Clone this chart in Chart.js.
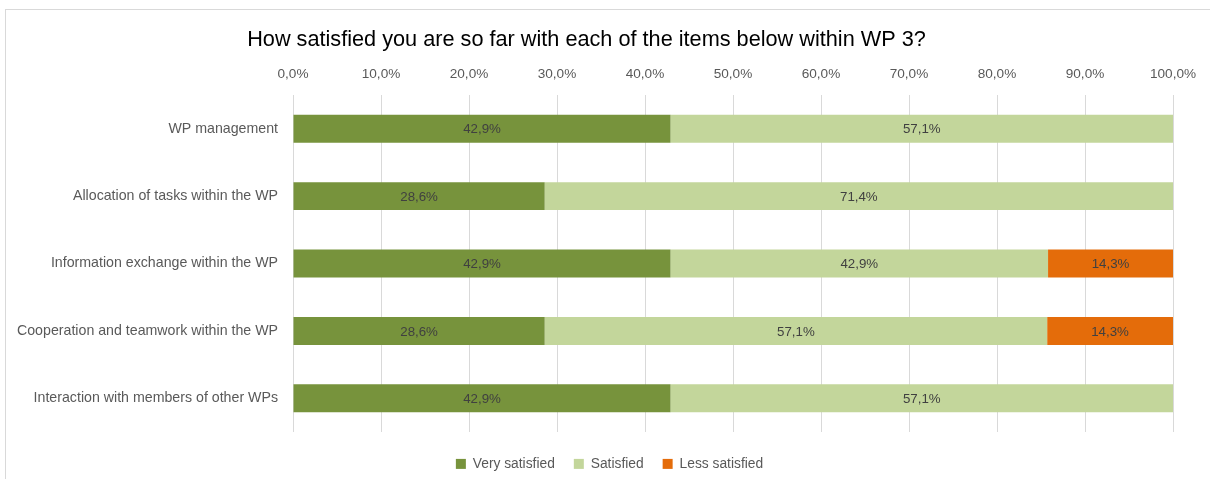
<!DOCTYPE html>
<html>
<head>
<meta charset="utf-8">
<title>WP 3 satisfaction</title>
<script src="https://cdn.jsdelivr.net/npm/chart.js@4/dist/chart.umd.min.js"></script>
<style>
  html, body { margin: 0; padding: 0; background: #ffffff; overflow: hidden; }
  #frame {
    position: absolute; left: 5px; top: 9px; width: 1400px; height: 700px;
    border-left: 1px solid #d9d9d9; border-top: 1px solid #d9d9d9;
  }
  #chart { position: absolute; left: 0; top: 0; }
</style>
</head>
<body>
<div id="frame"></div>
<canvas id="chart" width="1210" height="479"></canvas>
<script>
const categories = [
  'WP management',
  'Allocation of tasks within the WP',
  'Information exchange within the WP',
  'Cooperation and teamwork within the WP',
  'Interaction with members of other WPs'
];
const verySatisfied = [42.9, 28.6, 42.9, 28.6, 42.9];
const satisfied     = [57.1, 71.4, 42.9, 57.1, 57.1];
const lessSatisfied = [null, null, 14.3, 14.3, null];
const xTicks = [0, 10, 20, 30, 40, 50, 60, 70, 80, 90, 100];

const FONT = "'Liberation Sans', 'DejaVu Sans', sans-serif";
const LEGEND_HEIGHT = 47;
const LEGEND_SHIFT_Y = 6;
const LEGEND_SHIFT_X = 23;
const fmt = v => v.toFixed(1).replace('.', ',') + '%';

// Writes each segment's value in the middle of its bar
const barValueLabels = {
  id: 'barValueLabels',
  afterDatasetsDraw(chart) {
    const ctx = chart.ctx;
    ctx.save();
    ctx.font = '13.3px ' + FONT;
    ctx.fillStyle = '#404040';
    ctx.textAlign = 'center';
    ctx.textBaseline = 'middle';
    chart.data.datasets.forEach((ds, di) => {
      const meta = chart.getDatasetMeta(di);
      meta.data.forEach((bar, i) => {
        const v = ds.data[i];
        if (v === null || v === undefined) return;
        const left = Math.min(bar.x, bar.base);
        const right = Math.min(Math.max(bar.x, bar.base), chart.chartArea.right);
        ctx.fillText(fmt(v), (left + right) / 2, bar.y + 1);
      });
    });
    ctx.restore();
  }
};

// Keeps the bottom legend band at a fixed height and nudges its row into place
const fixedLegendBand = {
  id: 'fixedLegendBand',
  afterInit(chart) {
    const legend = chart.legend;
    if (!legend) return;
    const fit = legend.fit.bind(legend);
    legend.fit = function () {
      fit();
      this.height = LEGEND_HEIGHT;
    };
    const draw = legend.draw.bind(legend);
    legend.draw = function () {
      const ctx = this.ctx;
      ctx.save();
      ctx.translate(LEGEND_SHIFT_X, LEGEND_SHIFT_Y);
      draw();
      ctx.restore();
    };
  }
};

new Chart(document.getElementById('chart'), {
  type: 'bar',
  data: {
    labels: categories,
    datasets: [
      { label: 'Very satisfied', data: verySatisfied, backgroundColor: '#77933c' },
      { label: 'Satisfied', data: satisfied, backgroundColor: '#c3d69b' },
      { label: 'Less satisfied', data: lessSatisfied, backgroundColor: '#e46c0a' }
    ]
  },
  options: {
    indexAxis: 'y',
    responsive: false,
    animation: false,
    layout: { padding: { left: 0, right: 37, top: 0, bottom: 0 } },
    datasets: { bar: { categoryPercentage: 1, barPercentage: 0.415 } },
    scales: {
      x: {
        position: 'top',
        stacked: true,
        min: 0, max: 100,
        afterBuildTicks(axis) { axis.ticks = xTicks.map(v => ({ value: v })); },
        afterFit(axis) { axis.height = 42; },
        ticks: {
          color: '#595959',
          font: { family: FONT, size: 13.6 },
          padding: 13,
          callback: v => fmt(v)
        },
        grid: { color: '#d9d9d9', drawTicks: false, lineWidth: 1 },
        border: { display: false }
      },
      y: {
        stacked: true,
        afterFit(axis) { axis.width = 293; },
        ticks: {
          color: '#595959',
          font: { family: FONT, size: 14.2 },
          padding: 15
        },
        grid: { display: false, drawTicks: false },
        border: { display: false }
      }
    },
    plugins: {
      title: {
        display: true,
        text: 'How satisfied you are so far with each of the items below within WP 3?',
        color: '#000000',
        font: { family: FONT, size: 21.7, weight: 'normal' },
        padding: { top: 27, bottom: 0 }
      },
      legend: {
        position: 'bottom',
        labels: {
          color: '#595959',
          font: { family: FONT, size: 13.8 },
          boxWidth: 10, boxHeight: 10,
          padding: 19
        }
      },
      tooltip: { enabled: false }
    }
  },
  plugins: [barValueLabels, fixedLegendBand]
});
</script>
</body>
</html>
